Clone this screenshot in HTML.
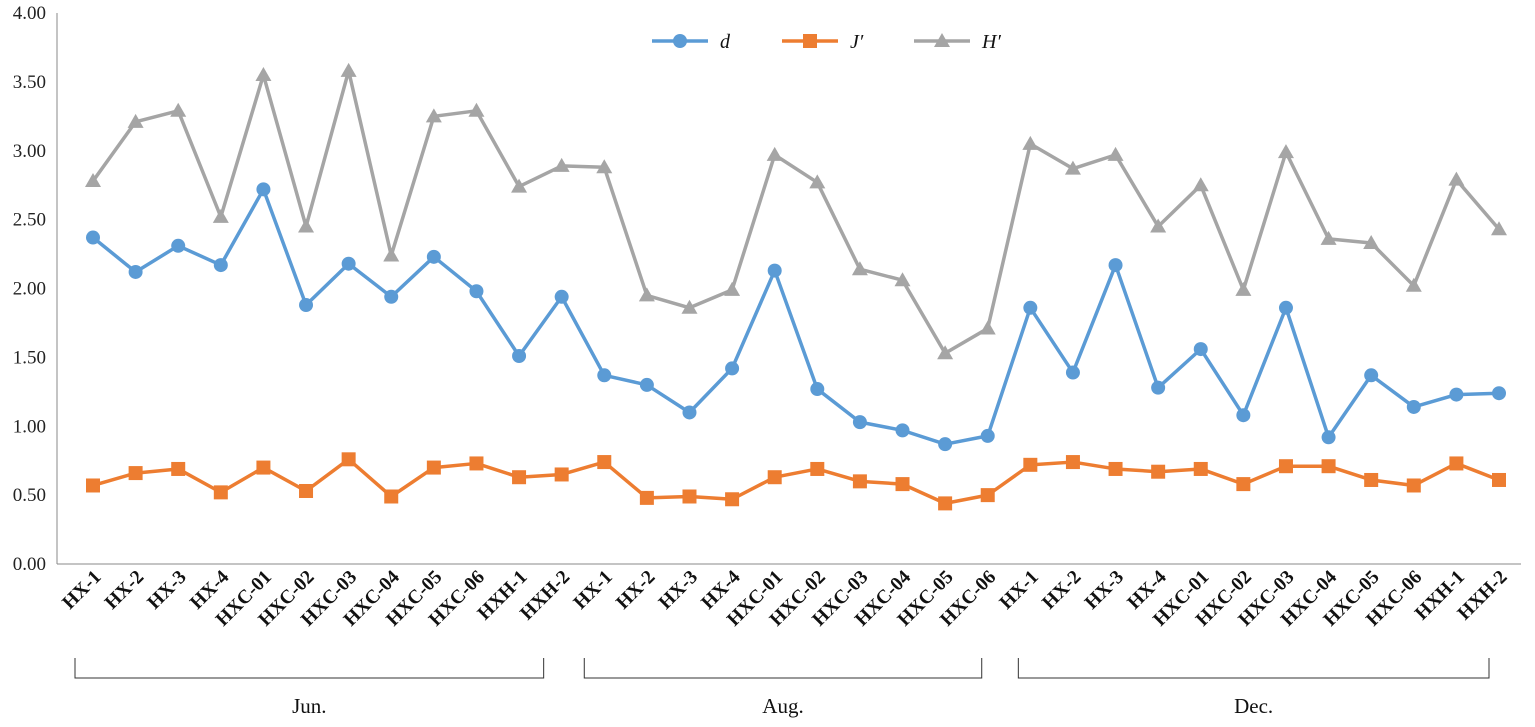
<!DOCTYPE html>
<html><head><meta charset="utf-8"><style>
html,body{margin:0;padding:0;background:#fff;}
svg{display:block;font-family:"Liberation Serif",serif;}
</style></head><body>
<svg id="chart" width="1535" height="727"></svg>
<script>
const categories=["HX-1","HX-2","HX-3","HX-4","HXC-01","HXC-02","HXC-03","HXC-04","HXC-05","HXC-06","HXH-1","HXH-2","HX-1","HX-2","HX-3","HX-4","HXC-01","HXC-02","HXC-03","HXC-04","HXC-05","HXC-06","HX-1","HX-2","HX-3","HX-4","HXC-01","HXC-02","HXC-03","HXC-04","HXC-05","HXC-06","HXH-1","HXH-2"];
const dValues=[2.37,2.12,2.31,2.17,2.72,1.88,2.18,1.94,2.23,1.98,1.51,1.94,1.37,1.30,1.10,1.42,2.13,1.27,1.03,0.97,0.87,0.93,1.86,1.39,2.17,1.28,1.56,1.08,1.86,0.92,1.37,1.14,1.23,1.24];
const jValues=[0.57,0.66,0.69,0.52,0.70,0.53,0.76,0.49,0.70,0.73,0.63,0.65,0.74,0.48,0.49,0.47,0.63,0.69,0.60,0.58,0.44,0.50,0.72,0.74,0.69,0.67,0.69,0.58,0.71,0.71,0.61,0.57,0.73,0.61];
const hValues=[2.78,3.21,3.29,2.52,3.55,2.45,3.58,2.24,3.25,3.29,2.74,2.89,2.88,1.95,1.86,1.99,2.97,2.77,2.14,2.06,1.53,1.71,3.05,2.87,2.97,2.45,2.75,1.99,2.99,2.36,2.33,2.02,2.79,2.43];
const yTicks=[0,0.5,1,1.5,2,2.5,3,3.5,4];
const groups=[{label:"Jun.",from:0,to:11},{label:"Aug.",from:12,to:21},{label:"Dec.",from:22,to:33}];
const bracketPad=[[-18,-18],[-20,-6],[-12,-10]];

const NS="http://www.w3.org/2000/svg";
const svg=document.getElementById("chart");
function el(t,a,p){const e=document.createElementNS(NS,t);for(const k in a)e.setAttribute(k,a[k]);(p||svg).appendChild(e);return e;}
const x0=93,x1=1499,yB=564,yT=13;
const xs=i=>x0+(x1-x0)*i/(categories.length-1);
const ys=v=>yB-(yB-yT)*v/4;

let ax=el("line",{x1:57,y1:yT,x2:57,y2:yB,stroke:"#888","stroke-width":1});


let bx=el("line",{x1:57,y1:yB,x2:1521,y2:yB,stroke:"#888","stroke-width":1});


yTicks.forEach(v=>{
  const t=el("text",{x:46,y:ys(v)+6,"text-anchor":"end","font-size":19,fill:"#222"});
  t.textContent=v.toFixed(2);
  
  
});
categories.forEach((c,i)=>{
  const x=xs(i)+9,y=578;
  const t=el("text",{x:x,y:y,"text-anchor":"end","font-size":19.5,"font-weight":"bold",fill:"#111",transform:`rotate(-45 ${x} ${y})`});
  t.textContent=c;
  
  
});
groups.forEach((g,k)=>{
  const a=xs(g.from)+bracketPad[k][0],b=xs(g.to)+bracketPad[k][1];
  const p=el("path",{d:`M${a} 658V678H${b}V658`,fill:"none",stroke:"#333","stroke-width":1});
  
  
  const t=el("text",{x:(a+b)/2,y:713,"text-anchor":"middle","font-size":21,fill:"#111"});
  t.textContent=g.label;
  
  
});
function marker(kind,x,y,col,g){
  if(kind==="circle")return el("circle",{cx:x,cy:y,r:7,fill:col},g);
  if(kind==="square")return el("rect",{x:x-7,y:y-7,width:14,height:14,fill:col},g);
  return el("path",{d:`M${x} ${y-8}L${x+8} ${y+6}L${x-8} ${y+6}Z`,fill:col},g);
}
const series=[{name:"H′",vals:hValues,col:"#a5a5a5",m:"tri",id:"h"},{name:"J′",vals:jValues,col:"#ed7d31",m:"square",id:"j"},{name:"d",vals:dValues,col:"#5b9bd5",m:"circle",id:"d"}];
series.forEach(s=>{
  const g=el("g",{});
  
  
  const l=el("polyline",{points:s.vals.map((v,i)=>xs(i)+","+ys(v)).join(" "),fill:"none",stroke:s.col,"stroke-width":3.5,"stroke-linejoin":"round"},g);
  
  
  s.vals.forEach((v,i)=>{
    const m=marker(s.m,xs(i),ys(v),s.col,g);
    
    
  });
});
const leg=[{s:series[2],x:652},{s:series[1],x:782},{s:series[0],x:914}];
leg.forEach(o=>{
  const g=el("g",{});
  
  
  el("line",{x1:o.x,y1:41,x2:o.x+56,y2:41,stroke:o.s.col,"stroke-width":3.5},g);
  marker(o.s.m,o.x+28,41,o.s.col,g);
  const t=el("text",{x:o.x+68,y:48,"font-size":20,"font-style":"italic",fill:"#111"},g);
  t.textContent=o.s.name;
});
</script>
</body></html>
